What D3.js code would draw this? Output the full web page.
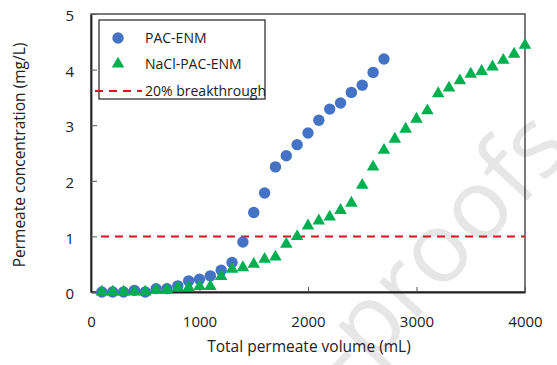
<!DOCTYPE html>
<html>
<head>
<meta charset="utf-8">
<script src="https://cdn.jsdelivr.net/npm/d3@7"></script>
<style>
  body { margin: 0; background: #fff; }
  svg { font-family: "Open Sans", sans-serif; }
</style>
</head>
<body>
<div id="chart"></div>
<script>
// volumes (mL) and permeate concentrations (mg/L)
const pacVolume = [100, 200, 300, 400, 500, 600, 700, 800, 900, 1000, 1100, 1200, 1300, 1400,
  1500, 1600, 1700, 1800, 1900, 2000, 2100, 2200, 2300, 2400, 2500, 2600, 2700];
const pacConc = [0, 0, 0, 0.03, 0, 0.06, 0.06, 0.11, 0.2, 0.23, 0.29, 0.39, 0.53, 0.9,
  1.43, 1.78, 2.25, 2.45, 2.65, 2.86, 3.09, 3.29, 3.4, 3.59, 3.72, 3.95, 4.19];

const naclVolume = [100, 200, 300, 400, 500, 600, 700, 800, 900, 1000, 1100, 1200, 1300, 1400,
  1500, 1600, 1700, 1800, 1900, 2000, 2100, 2200, 2300, 2400, 2500, 2600, 2700, 2800, 2900,
  3000, 3100, 3200, 3300, 3400, 3500, 3600, 3700, 3800, 3900, 4000];
const naclConc = [0, 0, 0, 0, 0, 0.04, 0.04, 0.08, 0.08, 0.1, 0.1, 0.28, 0.41, 0.44,
  0.5, 0.59, 0.63, 0.86, 1.0, 1.19, 1.28, 1.35, 1.47, 1.6, 1.92, 2.25, 2.55, 2.75, 2.93,
  3.11, 3.26, 3.57, 3.67, 3.8, 3.92, 3.97, 4.05, 4.17, 4.28, 4.44];

const breakthrough = 1; // 20% breakthrough level
const xTicks = [0, 1000, 2000, 3000, 4000];
const yTicks = [0, 1, 2, 3, 4, 5];
const legendLabels = ["PAC-ENM", "NaCl-PAC-ENM", "20% breakthrough"];

const width = 557, height = 365;
const margin = {left: 91, right: 32, top: 14, bottom: 73};

const svg = d3.select("#chart")
  .append("svg")
  .attr("width", width)
  .attr("height", height);

const x = d3.scaleLinear().domain([0, 4000]).range([margin.left, width - margin.right]);
const y = d3.scaleLinear().domain([0, 5]).range([height - margin.bottom, margin.top]);

// faint watermark behind everything
svg.append("text")
  .attr("transform", "translate(574,150) rotate(-47)")
  .attr("text-anchor", "end")
  .attr("font-size", 98)
  .attr("fill", "#e6e6e6")
  .text("Pre-proofs");

// frame
svg.append("rect")
  .attr("x", x(0)).attr("y", y(5))
  .attr("width", x(4000) - x(0)).attr("height", y(0) - y(5))
  .attr("fill", "none")
  .attr("stroke", "#222")
  .attr("stroke-width", 1.2);

// axes, ticks pointing inward
const xAxis = svg.append("g")
  .attr("transform", `translate(0,${y(0)})`)
  .call(d3.axisBottom(x).tickValues(xTicks).tickFormat(d3.format("d"))
    .tickSizeInner(-5).tickSizeOuter(0).tickPadding(24));
const yAxis = svg.append("g")
  .attr("transform", `translate(${x(0)},0)`)
  .call(d3.axisLeft(y).tickValues(yTicks).tickFormat(d3.format("d"))
    .tickSizeInner(-6).tickSizeOuter(0).tickPadding(17));

[xAxis, yAxis].forEach(g => {
  g.select(".domain").attr("stroke", "#222").attr("stroke-width", 1.8);
  g.selectAll(".tick line").attr("stroke", "#555");
  g.selectAll(".tick text").attr("font-size", 15).attr("fill", "#222")
    .attr("font-family", "Open Sans, sans-serif");
});
yAxis.selectAll(".tick text").attr("dy", "0.45em");

// axis titles
svg.append("text")
  .attr("x", (x(0) + x(4000)) / 2 + 1)
  .attr("y", 352)
  .attr("text-anchor", "middle")
  .attr("font-size", 15.5)
  .attr("fill", "#222")
  .text("Total permeate volume (mL)");

svg.append("text")
  .attr("transform", `translate(25,${(y(0) + y(5)) / 2 + 2}) rotate(-90)`)
  .attr("text-anchor", "middle")
  .attr("font-size", 15.5)
  .attr("fill", "#222")
  .text("Permeate concentration (mg/L)");

// breakthrough line
svg.append("line")
  .attr("x1", x(0) + 10).attr("x2", x(4000))
  .attr("y1", y(breakthrough)).attr("y2", y(breakthrough))
  .attr("stroke", "#d0181e")
  .attr("stroke-width", 2)
  .attr("stroke-dasharray", "8,6");

const pac = pacVolume.map((v, i) => ({v: v, c: pacConc[i]}));
const nacl = naclVolume.map((v, i) => ({v: v, c: naclConc[i]}));

svg.append("g")
  .selectAll("circle")
  .data(pac)
  .enter()
  .append("circle")
  .attr("cx", d => x(d.v))
  .attr("cy", d => y(d.c))
  .attr("r", 5.7)
  .attr("fill", "#4472c4");

const tri = d3.symbol().type(d3.symbolTriangle).size(68);
svg.append("g")
  .selectAll("path")
  .data(nacl)
  .enter()
  .append("path")
  .attr("d", tri)
  .attr("transform", d => `translate(${x(d.v)},${y(d.c)})`)
  .attr("fill", "#00b050");

// legend
const legend = svg.append("g");
legend.append("rect")
  .attr("x", 99).attr("y", 20)
  .attr("width", 166).attr("height", 79)
  .attr("fill", "#fff")
  .attr("stroke", "#222")
  .attr("stroke-width", 1.2);

const rowY = [38, 64, 91];
legend.append("circle")
  .attr("cx", 118).attr("cy", rowY[0]).attr("r", 5.7).attr("fill", "#4472c4");
legend.append("path")
  .attr("d", tri)
  .attr("transform", `translate(118,${rowY[1]})`)
  .attr("fill", "#00b050");
legend.append("line")
  .attr("x1", 95).attr("x2", 142)
  .attr("y1", rowY[2]).attr("y2", rowY[2])
  .attr("stroke", "#d0181e")
  .attr("stroke-width", 2)
  .attr("stroke-dasharray", "8,6");

legend.selectAll("text.lbl")
  .data(legendLabels)
  .enter()
  .append("text")
  .attr("class", "lbl")
  .attr("x", 145)
  .attr("y", (d, i) => rowY[i] + 5)
  .attr("font-size", 14)
  .attr("fill", "#222")
  .text(d => d);
</script>
</body>
</html>
